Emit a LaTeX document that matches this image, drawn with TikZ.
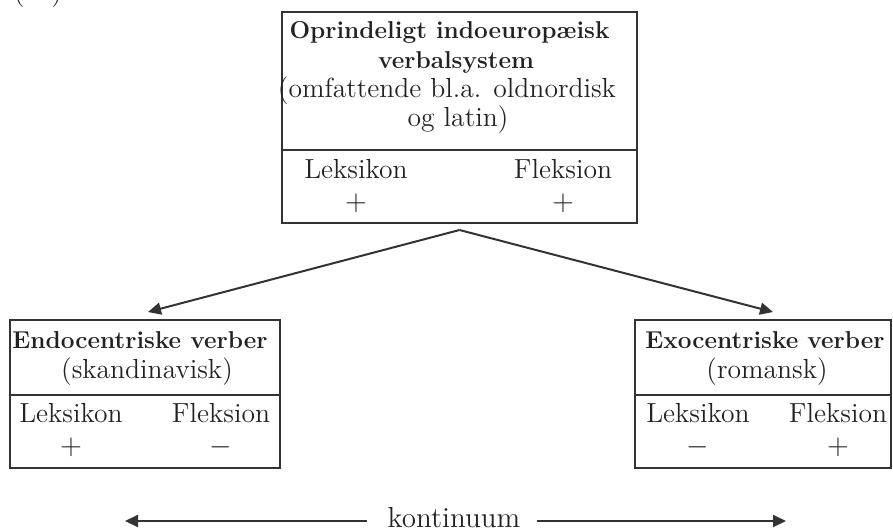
\documentclass[tikz,border=0pt]{standalone}
\usetikzlibrary{arrows.meta}
\definecolor{ink}{HTML}{333333}
\definecolor{type}{HTML}{222222}
\begin{document}
\begin{tikzpicture}[x=.5pt,y=-.5pt,
    box/.style={draw=ink, line width=1pt, inner sep=0pt, outer sep=0pt, minimum width=#1},
    txt/.style={anchor=base, inner sep=0pt, text=type, font=\fontsize{13.8}{16}\selectfont},
    hd/.style={txt, font=\fontsize{12.2}{14}\selectfont\bfseries},
    arr/.style={draw=ink, line width=1pt, -{Triangle[length=6.5pt,width=6pt]}}]
  \useasboundingbox (0,0) rectangle (893,530);
  \node[txt] (nr) at (38,1) {(11)};

  \node[box=177.5pt, minimum height=69pt] (top) at (459.5,81) {};
  \node[box=177.5pt, minimum height=36.5pt, anchor=north] (toprow) at (top.south) {};
  \node[box=135pt, minimum height=37.5pt] (endo) at (145,357.5) {};
  \node[box=135pt, minimum height=36.5pt, anchor=north] (endorow) at (endo.south) {};
  \node[box=128pt, minimum height=37.5pt] (exo) at (763,357.5) {};
  \node[box=128pt, minimum height=36.5pt, anchor=north] (exorow) at (exo.south) {};

  \node[hd] (top1) at (449.5,39) {Oprindeligt indoeuropæisk};
  \node[hd] (top2) at (456,68) {verbalsystem};
  \node[txt] (top3) at (447,97) {(omfattende bl.a. oldnordisk};
  \node[txt] (top4) at (458,126) {og latin)};
  \node[hd] (endo1) at (140,348) {Endocentriske verber};
  \node[txt] (endo2) at (147,378) {(skandinavisk)};
  \node[hd] (exo1) at (765,348) {Exocentriske verber};
  \node[txt] (exo2) at (767,378) {(romansk)};

  \foreach \n/\lx/\fx/\ry/\vl/\vf in {top/356/563/178/+/+, endo/71/221/422/+/-, exo/698/838/422/-/+}{
    \node[txt] (\n-lex) at (\lx,\ry) {Leksikon};
    \node[txt] (\n-flex) at (\fx,\ry) {Fleksion};
    \node[txt] (\n-lexv) at (\lx,\ry+32) {$\vl$};
    \node[txt] (\n-flexv) at (\fx,\ry+32) {$\vf$};
  }

  \coordinate (split) at ([yshift=-3.5pt]toprow.south);
  \draw[arr] (split) -- ([shift={(3,-8)}]endo.north);
  \draw[arr] (split) -- ([shift={(10,-8)}]exo.north);

  \node[txt, anchor=center, text height=9pt, text depth=3pt, font=\fontsize{14.5}{16}\selectfont] (kont) at (454,521) {kontinuum};
  \coordinate (cl) at (125,521);
  \coordinate (cr) at (786,521);
  \draw[arr, shorten <=10pt] (kont.west) -- (cl);
  \draw[arr, shorten <=8pt] (kont.east) -- (cr);
\end{tikzpicture}
\end{document}
